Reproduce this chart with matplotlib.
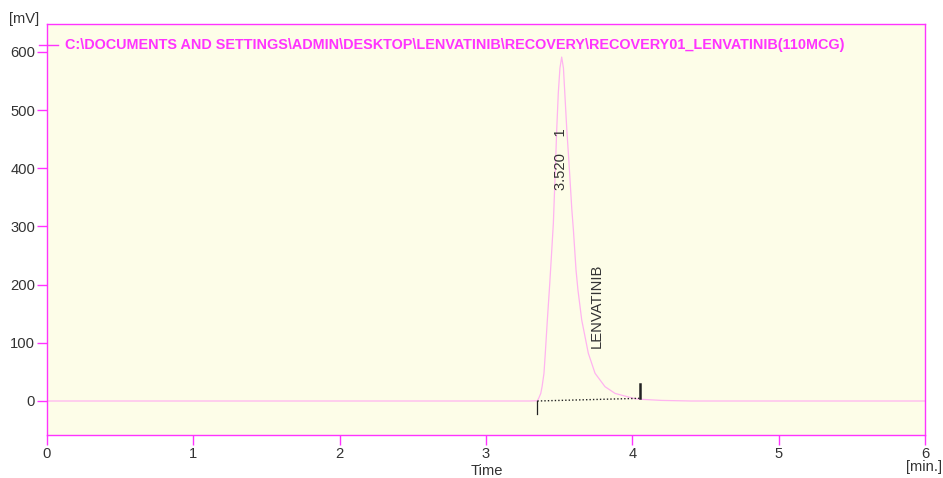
import matplotlib.pyplot as plt

plt.rcParams['font.family'] = ['Liberation Sans', 'DejaVu Sans']

# chromatogram trace (min, mV)
time_min = [0.0, 1.0, 2.0, 3.0, 3.30, 3.351, 3.360, 3.374, 3.383, 3.396, 3.405,
            3.419, 3.435, 3.447, 3.460, 3.474, 3.483, 3.494, 3.505, 3.517,
            3.529, 3.537, 3.552, 3.567, 3.586, 3.597, 3.615, 3.628, 3.654,
            3.699, 3.745, 3.813, 3.882, 4.007, 4.052, 4.20, 4.40, 5.0, 6.0]
signal_mv = [0.0, 0.0, 0.0, 0.0, 0.0, 0.5, 4.6, 13.0, 24.6, 47.6, 82.0,
             139.0, 200.0, 250.0, 305.0, 400.0, 466.0, 530.0, 572.0, 591.0,
             572.0, 535.0, 466.0, 409.0, 330.0, 294.0, 225.0, 191.0, 139.0,
             82.0, 47.6, 24.6, 13.0, 4.6, 3.0, 1.0, 0.0, 0.0, 0.0]

# integration baseline of peak 1
base_t = [3.351, 4.052]
base_v = [0.0, 4.6]

peak_rt = 3.520
peak_no = 1
peak_name = "LENVATINIB"

x_ticks = [0, 1, 2, 3, 4, 5, 6]
y_ticks = [0, 100, 200, 300, 400, 500, 600]
file_name = "C:\\DOCUMENTS AND SETTINGS\\ADMIN\\DESKTOP\\LENVATINIB\\RECOVERY\\RECOVERY01_LENVATINIB(110MCG)"

MAGENTA = '#ff33ff'
TEXT = '#333333'
FS = 10.6

fig = plt.figure(figsize=(9.43, 4.78), dpi=100)
ax = fig.add_axes([0.0498, 0.09, 0.9312, 0.86])
ax.set_facecolor('#fdfde8')

ax.plot(time_min, signal_mv, color='#ffb3f0', lw=0.9)
ax.plot(base_t, base_v, color='#222222', lw=1.0, ls=(0, (1, 1.5)))

# baseline start / end marks
ax.plot([base_t[0], base_t[0]], [base_v[0], base_v[0] - 23], color='#222222', lw=0.9)
ax.plot([base_t[1], base_t[1]], [base_v[1], base_v[1] + 24], color='#222222', lw=1.8)

ax.text(peak_rt - 0.005, 362, f"{peak_rt:.3f}    {peak_no}", rotation=90,
        ha='center', va='bottom', fontsize=FS, color=TEXT)
ax.text(3.756, 91, peak_name, rotation=90, ha='center', va='bottom',
        fontsize=FS, color=TEXT)

# file name legend
ax.plot([-0.055, 0.075], [612, 612], color=MAGENTA, lw=1.0, clip_on=False)
ax.text(0.125, 612, file_name, color=MAGENTA, fontsize=10.4, fontweight='bold',
        va='center', ha='left')

ax.set_xlim(0, 6)
ax.set_ylim(-58.4, 648)
ax.set_xticks(x_ticks)
ax.set_yticks(y_ticks)
ax.tick_params(colors=MAGENTA, labelcolor=TEXT, labelsize=FS, length=7, width=1, pad=1.5)
for s in ax.spines.values():
    s.set_color(MAGENTA)
    s.set_linewidth(1.0)

fig.text(487 / 943, 1 - 471 / 478, "Time", ha='center', va='center', fontsize=FS, color=TEXT)
fig.text(924 / 943, 1 - 467 / 478, "[min.]", ha='center', va='center', fontsize=FS, color=TEXT)
fig.text(24 / 943, 1 - 19 / 478, "[mV]", ha='center', va='center', fontsize=FS, color=TEXT)

fig.savefig('out.png', dpi=100, facecolor='white')
